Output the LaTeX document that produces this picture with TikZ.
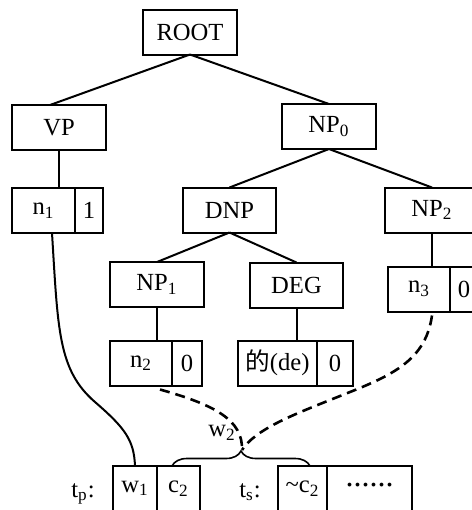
\documentclass[tikz,border=0pt]{standalone}
\usepackage{fontspec}
\setmainfont{Liberation Serif}
\newfontfamily\cjk{Noto Sans CJK SC}
\usetikzlibrary{calc,decorations.pathreplacing}
\tikzset{bx/.append style={draw,minimum height=22.5pt,inner sep=0pt,outer sep=0pt}}
\tikzset{dl/.append style={dash pattern=on 5pt off 3pt,line width=1.3pt}}
\newcommand{\lsub}[1]{\textsubscript{#1}}

\begin{document}
\begin{tikzpicture}[x=0.5pt,y=-0.5pt,line width=1pt,font=\fontsize{12.3}{14}\selectfont]
                \useasboundingbox (0,0) rectangle (472,510);
                \clip (0,0) rectangle (472,510);
                % tree
                \node[bx,minimum width=47pt] (root) at (190,32) {ROOT};
                \node[bx,minimum width=47pt] (vp) at (59,127.5) {VP};
                \node[bx,minimum width=47pt] (np0) at (329,126.5) {NP\lsub{0}};
                \node[bx,minimum width=31.5pt] (n1) at (43.5,210.5) {n\lsub{1}};
                \node[bx,minimum width=14pt] (v1) at (89,210.5) {1};
                \node[bx,minimum width=46.5pt] (dnp) at (229.5,210) {DNP};
                \node[bx,minimum width=47pt] (np2) at (432,210) {NP\lsub{2}};
                \node[bx,minimum width=47pt] (np1) at (157,284.5) {NP\lsub{1}};
                \node[bx,minimum width=46.5pt] (deg) at (296.5,285) {DEG};
                \node[bx,minimum width=31pt] (n3) at (419,289) {n\lsub{3}};
                \node[bx,minimum width=14pt] (v3) at (464,289) {0};
                \node[bx,minimum width=31pt] (n2) at (141,363) {n\lsub{2}};
                \node[bx,minimum width=15pt] (v2) at (187,363) {0};
                \node[bx,minimum width=39.5pt] (de) at (277.5,363) {{\cjk 的}(de)};
                \node[bx,minimum width=18pt] (vde) at (335,363) {0};
                % strings
                \node[bx,minimum width=22pt] (w1) at (135,488.5) {w\lsub{1}};
                \node[bx,minimum width=21.5pt] (c2) at (178.5,488.5) {c\lsub{2}};
                \node[bx,minimum width=24.5pt] (nc2) at (302.5,488.5) {\textasciitilde c\lsub{2}};
                \node[bx,minimum width=42.5pt] (dots) at (369.5,488.5) {\fontsize{16}{16}\selectfont\raisebox{0.2em}{......}};
                \node[anchor=base] (tp) at (83,497) {t\lsub{p}:};
                \node[anchor=base] (ts) at (250,497) {t\lsub{s}:};
                \node (w2) at (222,433) {w\lsub{2}};
                \coordinate (tip) at (242,450);
                \path (root.south) edge ([xshift=-4.5pt]vp.north);
                \path (root.south) edge (np0.north);
                \path (np0.south) edge (dnp.north);
                \path (np0.south) edge (np2.north);
                \path (dnp.south) edge (np1.north);
                \path (dnp.south) edge (deg.north);
                \draw (vp.south) -- (vp.south |- n1.north);
                \draw (np1.south) -- (np1.south |- n2.north);
                \draw (deg.south) -- (deg.south |- de.north);
                \draw (np2.south) -- (np2.south |- n3.north);
                \draw ($(n1.south)+(8.5,0)$) .. controls (58,330) and (58,370) .. (95,402)
                    .. controls (125,428) and (134,440) .. (w1.north);
                \draw[dl] ($(n2.south)+(19,4)$) .. controls (215,405) and (243,420) .. (tip);
                \draw[dl] ($(np2.south |- n3.south)+(0,4)$) .. controls (425,365) and (385,378) .. (330,400)
                    .. controls (290,416) and (255,430) .. (tip);
                \draw[line width=0.8pt,decorate,decoration={brace,amplitude=7.5pt}]
                    ($(c2.north)+(-6.5,0)$) -- ($(nc2.north)+(7.5,0)$);
            \end{tikzpicture}
\end{document}
